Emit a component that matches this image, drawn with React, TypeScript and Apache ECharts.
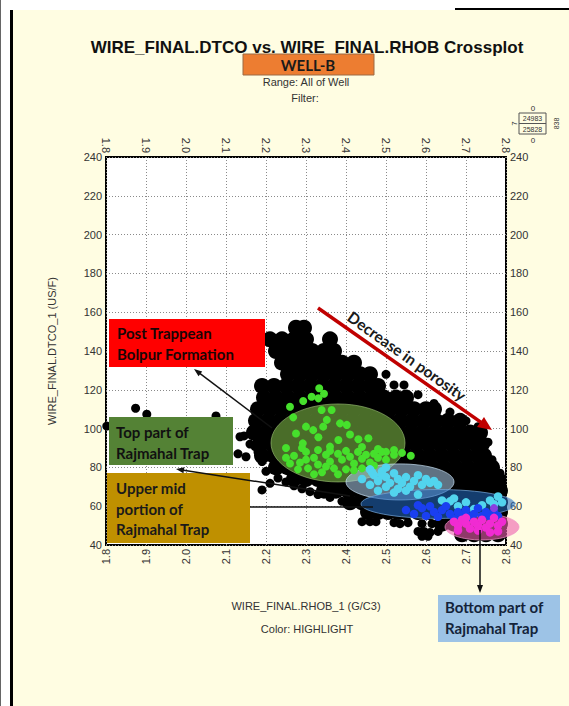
import React, { useEffect, useRef } from 'react';
import * as echarts from 'echarts';

// ---- axes ----
const rhoMin = 1.8;
const rhoMax = 2.8;
const rhoStep = 0.1;
const dtMin = 40;
const dtMax = 240;
const dtStep = 20;

// ---- black (all-data) cloud, read row by row: [DTCO, RHOB values] ----
const cloudRows: [number, number[]][] = [
  [152, [2.275, 2.295]],
  [146, [2.21, 2.24, 2.27, 2.30, 2.36]],
  [140, [2.225, 2.255, 2.285, 2.315, 2.345, 2.37]],
  [134, [2.24, 2.27, 2.30, 2.33, 2.36, 2.39, 2.42]],
  [128, [2.255, 2.285, 2.315, 2.345, 2.375, 2.405, 2.435, 2.46]],
  [122, [2.19, 2.22, 2.25, 2.28, 2.31, 2.34, 2.37, 2.40, 2.43, 2.46, 2.48]],
  [116, [2.195, 2.225, 2.255, 2.285, 2.315, 2.345, 2.375, 2.405, 2.435, 2.465, 2.495, 2.525, 2.55]],
  [110, [2.18, 2.21, 2.24, 2.27, 2.30, 2.33, 2.36, 2.39, 2.42, 2.45, 2.48, 2.51, 2.54, 2.57, 2.60, 2.62]],
  [104, [2.175, 2.205, 2.235, 2.265, 2.295, 2.325, 2.355, 2.385, 2.415, 2.445, 2.475, 2.505, 2.535, 2.565, 2.595, 2.625, 2.655, 2.685]],
  [98, [2.17, 2.20, 2.23, 2.26, 2.29, 2.32, 2.35, 2.38, 2.41, 2.44, 2.47, 2.50, 2.53, 2.56, 2.59, 2.62, 2.65, 2.68, 2.71, 2.735]],
  [92, [2.185, 2.215, 2.245, 2.275, 2.305, 2.335, 2.365, 2.395, 2.425, 2.455, 2.485, 2.515, 2.545, 2.575, 2.605, 2.635, 2.665, 2.695, 2.725, 2.74]],
  [86, [2.19, 2.22, 2.25, 2.28, 2.31, 2.34, 2.37, 2.40, 2.43, 2.46, 2.49, 2.52, 2.55, 2.58, 2.61, 2.64, 2.67, 2.70, 2.73, 2.745]],
  [80, [2.225, 2.255, 2.285, 2.315, 2.345, 2.375, 2.405, 2.435, 2.465, 2.495, 2.525, 2.555, 2.585, 2.615, 2.645, 2.675, 2.705, 2.735, 2.765]],
  [74, [2.27, 2.30, 2.33, 2.36, 2.39, 2.42, 2.45, 2.48, 2.51, 2.54, 2.57, 2.60, 2.63, 2.66, 2.69, 2.72, 2.75, 2.78]],
  [68, [2.345, 2.375, 2.405, 2.435, 2.465, 2.495, 2.525, 2.555, 2.585, 2.615, 2.645, 2.675, 2.705, 2.735, 2.765, 2.785]],
  [62, [2.41, 2.44, 2.47, 2.50, 2.53, 2.56, 2.59, 2.62, 2.65, 2.68, 2.71, 2.74, 2.77, 2.785]],
  [57, [2.455, 2.48, 2.505, 2.53, 2.55, 2.58, 2.61, 2.64, 2.67, 2.70, 2.73, 2.76, 2.785]],
  [51, [2.64, 2.67, 2.70, 2.73, 2.76, 2.785]],
  [45.5, [2.69, 2.72, 2.75, 2.78]],
];

// ---- scattered black points around the cloud edge: [RHOB, DTCO] ----
const cloudOutliers: [number, number][] = [
  [1.874, 110.5], [1.902, 107.4], [2.075, 106.5], [1.802, 101.3], [2.135, 95.8], [2.145, 96.2],
  [2.13, 87], [2.15, 85.5], [2.173, 90.7], [2.18, 88], [2.19, 83], [2.19, 68.4], [2.21, 71.8],
  [2.177, 98.4], [2.19, 95.8], [2.205, 101.9], [2.16, 92], [2.2, 78], [2.23, 74.5], [2.25, 72.5],
  [2.27, 70.5], [2.29, 69], [2.31, 67.5], [2.33, 66], [2.36, 64.5], [2.39, 62.5],
  [2.50, 128], [2.52, 122.5], [2.545, 122.5], [2.58, 117.5], [2.62, 113], [2.66, 108.5], [2.70, 104],
  [2.73, 101], [2.755, 93], [2.765, 84], [2.785, 77], [2.79, 72],
  [2.44, 52], [2.46, 52], [2.475, 52], [2.52, 51.5], [2.535, 51], [2.555, 51.5], [2.59, 51], [2.615, 51],
  [2.58, 47], [2.595, 47], [2.61, 46.5], [2.63, 47], [2.59, 44.5], [2.605, 44.5],
  [2.45, 60], [2.47, 59.5], [2.44, 62],
];

// ---- highlighted zones ----
const greenPts: [number, number][] = [
  [2.333, 120.8], [2.331, 115.6], [2.314, 116.4], [2.293, 114.2], [2.26, 111.3], [2.345, 118],
  [2.268, 105.8], [2.339, 109.6], [2.364, 109.6], [2.343, 101], [2.385, 102.7], [2.402, 101.9],
  [2.331, 95.5], [2.292, 92.4], [2.36, 90.7], [2.381, 94.1], [2.431, 94.5], [2.456, 95],
  [2.352, 104.5], [2.318, 99.2], [2.41, 97], [2.30, 101], [2.275, 97.5], [2.25, 90],
  [2.44, 90.5], [2.48, 89.5], [2.5, 88], [2.52, 89],
  [2.27, 86], [2.285, 82.5], [2.30, 88], [2.305, 79.5], [2.32, 85], [2.33, 81.5], [2.34, 77.5],
  [2.35, 86.5], [2.36, 83], [2.37, 79.5], [2.38, 87], [2.39, 84], [2.40, 79], [2.41, 85.5],
  [2.42, 82], [2.43, 88], [2.44, 84.5], [2.45, 86.5], [2.46, 82.5], [2.47, 87], [2.48, 85],
  [2.49, 88], [2.50, 84], [2.52, 86.5], [2.54, 87.5], [2.562, 86], [2.28, 79], [2.32, 76.5],
  [2.35, 80.5], [2.38, 76.5], [2.42, 78.5], [2.44, 79.5], [2.47, 81], [2.30, 84], [2.26, 82],
  [2.36, 88.5], [2.40, 88.5], [2.33, 89], [2.25, 85], [2.29, 90],
];
const cyanPts: [number, number][] = [
  [2.44, 74], [2.46, 71], [2.47, 76], [2.48, 73], [2.49, 78], [2.50, 70], [2.50, 75], [2.51, 72],
  [2.52, 77], [2.53, 74], [2.53, 69], [2.54, 72], [2.55, 75], [2.56, 70], [2.57, 73], [2.58, 76],
  [2.59, 71], [2.60, 74], [2.61, 72], [2.62, 73], [2.63, 71], [2.48, 68], [2.52, 67], [2.46, 79],
  [2.50, 80], [2.55, 68], [2.58, 66], [2.465, 77.5], [2.49, 76],
  [2.64, 63], [2.66, 62.5], [2.67, 64], [2.68, 60], [2.70, 62], [2.72, 58.5], [2.74, 60.5],
  [2.76, 63], [2.78, 65], [2.79, 62], [2.77, 61],
];
const bluePts: [number, number][] = [
  [2.55, 58], [2.57, 56], [2.59, 59], [2.60, 55], [2.62, 57], [2.63, 54.5], [2.64, 58], [2.66, 56],
  [2.67, 53.5], [2.68, 57], [2.69, 55], [2.70, 58], [2.71, 54.5], [2.72, 56], [2.73, 59], [2.74, 55],
  [2.75, 57], [2.76, 54.5], [2.77, 57], [2.78, 55], [2.58, 60.5], [2.61, 60], [2.65, 60],
];
const magentaPts: [number, number][] = [
  [2.67, 52], [2.68, 50], [2.69, 53], [2.70, 51], [2.71, 48.5], [2.72, 52], [2.73, 50], [2.74, 53],
  [2.75, 49], [2.76, 51], [2.77, 54], [2.78, 50], [2.79, 52], [2.70, 54], [2.73, 47.5], [2.76, 46.5],
  [2.78, 47], [2.68, 47.5],
];
const purplePts: [number, number][] = [[2.77, 59]];

const cloudPts: [number, number][] = [];
cloudRows.forEach(([dt, rhos]) => rhos.forEach((r) => cloudPts.push([r, dt])));

const AX_FONT = 'Liberation Sans, Arial, sans-serif';
const NOTE_FONT = 'Lato, "Open Sans", sans-serif';

function arrow(x1: number, y1: number, x2: number, y2: number, color: string, w: number, hl: number, hw: number, z: number, head = true) {
  const dx = x2 - x1, dy = y2 - y1;
  const L = Math.sqrt(dx * dx + dy * dy);
  const ux = dx / L, uy = dy / L;
  const nx = -uy, ny = ux;
  const bx = x2 - ux * hl, by = y2 - uy * hl;
  const els: any[] = [
    { type: 'line', z, shape: { x1, y1, x2: head ? bx + ux * 2 : x2, y2: head ? by + uy * 2 : y2 }, style: { stroke: color, lineWidth: w } },
  ];
  if (head) {
    els.push({
      type: 'polygon', z,
      shape: { points: [[x2, y2], [bx + nx * hw / 2, by + ny * hw / 2], [bx - nx * hw / 2, by - ny * hw / 2]] },
      style: { fill: color },
    });
  }
  return els;
}

function noteBox(x: number, y: number, w: number, h: number, fill: string, lines: string, tx: number, ty: number, color: string) {
  return [
    { type: 'rect', z: 20, shape: { x, y, width: w, height: h }, style: { fill } },
    {
      type: 'text', z: 21, x: tx, y: ty,
      style: { text: lines, fill: color, fontFamily: NOTE_FONT, fontWeight: 'bold', fontSize: 15, lineHeight: 20.5, align: 'left', verticalAlign: 'top' },
    },
  ];
}

function dots(name: string, data: [number, number][], size: number, color: string, z: number) {
  return { type: 'scatter', name, data, symbolSize: size, itemStyle: { color, opacity: 1, borderWidth: 0 }, z, silent: true };
}

export default function App() {
  const ref = useRef<HTMLDivElement>(null);
  useEffect(() => {
    if (!ref.current) return;
    const chart = echarts.init(ref.current, null, { renderer: 'svg' });
    const axLabel = { fontFamily: AX_FONT, fontSize: 11, color: '#333' };
    const gridLine = { show: true, lineStyle: { type: [1, 2] as any, color: '#8a8a8a', width: 1 } };
    chart.setOption({
      animation: false,
      backgroundColor: 'transparent',
      textStyle: { fontFamily: AX_FONT },
      grid: { left: 106, top: 157, width: 400, height: 388, show: true, backgroundColor: '#fff', borderColor: '#000', borderWidth: 2 },
      xAxis: [
        {
          type: 'value', position: 'bottom', min: rhoMin, max: rhoMax, interval: rhoStep,
          axisLine: { show: false }, axisTick: { show: false }, splitLine: gridLine,
          axisLabel: { ...axLabel, rotate: 90, margin: 4, formatter: (v: number) => v.toFixed(1) },
          name: 'WIRE_FINAL.RHOB_1 (G/C3)', nameLocation: 'middle', nameGap: 55,
          nameTextStyle: { fontFamily: AX_FONT, fontSize: 11, color: '#333' },
        },
        {
          type: 'value', position: 'top', min: rhoMin, max: rhoMax, interval: rhoStep,
          axisLine: { show: false }, axisTick: { show: false }, splitLine: { show: false },
          axisLabel: { ...axLabel, rotate: 90, margin: 4, formatter: (v: number) => v.toFixed(1) },
        },
      ],
      yAxis: [
        {
          type: 'value', position: 'left', min: dtMin, max: dtMax, interval: dtStep,
          axisLine: { show: false }, axisTick: { show: false }, splitLine: gridLine,
          axisLabel: { ...axLabel, margin: 4 },
          name: 'WIRE_FINAL.DTCO_1 (US/F)', nameLocation: 'middle', nameGap: 49,
          nameTextStyle: { fontFamily: AX_FONT, fontSize: 11, color: '#333' },
        },
        {
          type: 'value', position: 'right', min: dtMin, max: dtMax, interval: dtStep,
          axisLine: { show: false }, axisTick: { show: false }, splitLine: { show: false },
          axisLabel: { ...axLabel, margin: 4 },
        },
      ],
      series: [
        dots('cloud', cloudPts, 16, '#000', 2),
        dots('outliers', cloudOutliers, 9, '#000', 2),
        dots('Top part', greenPts, 8, '#46e02c', 5),
        dots('Upper mid', cyanPts, 8.5, '#52d4ee', 5),
        dots('Lower mid', bluePts, 8.5, '#1a3ff0', 5),
        dots('Bottom', magentaPts, 8.5, '#f02bd2', 5),
        dots('mix', purplePts, 8, '#8a3de0', 5),
      ],
    });

    const P = (r: number, d: number) => chart.convertToPixel({ xAxisIndex: 0, yAxisIndex: 0 }, [r, d]) as number[];
    const ell = (r0: number, r1: number, d0: number, d1: number, fill: string, stroke: string) => {
      const a = P(r0, d0), b = P(r1, d1);
      return {
        type: 'ellipse', z: 4,
        shape: { cx: (a[0] + b[0]) / 2, cy: (a[1] + b[1]) / 2, rx: Math.abs(b[0] - a[0]) / 2, ry: Math.abs(b[1] - a[1]) / 2 },
        style: { fill, stroke, lineWidth: 1 },
      };
    };

    const graphic: any[] = [
      ell(2.2125, 2.5475, 72.5, 112.7, 'rgba(112,165,62,0.66)', 'rgba(160,200,120,0.6)'),
      ell(2.40, 2.67, 63.2, 81.8, 'rgba(175,208,236,0.55)', 'rgba(200,225,245,0.7)'),
      ell(2.4375, 2.8225, 53.7, 68.6, 'rgba(35,105,190,0.58)', 'rgba(120,170,220,0.7)'),
      ell(2.6475, 2.8325, 42.6, 56, 'rgba(238,95,175,0.6)', 'rgba(240,150,200,0.7)'),
      // title block
      { type: 'text', x: 307, y: 47, z: 30, style: { text: 'WIRE_FINAL.DTCO vs. WIRE_FINAL.RHOB Crossplot', fill: '#111', fontFamily: AX_FONT, fontWeight: 'bold', fontSize: 17, align: 'center', verticalAlign: 'middle' } },
      { type: 'rect', z: 31, shape: { x: 243, y: 54, width: 131, height: 21 }, style: { fill: '#ed7d31', stroke: '#9b6a45', lineWidth: 1 } },
      { type: 'text', x: 308, y: 65, z: 32, style: { text: 'WELL-B', fill: '#1a1a1a', fontFamily: NOTE_FONT, fontWeight: 'bold', fontSize: 15, align: 'center', verticalAlign: 'middle' } },
      { type: 'text', x: 306, y: 82, z: 30, style: { text: 'Range: All of Well', fill: '#333', fontFamily: AX_FONT, fontSize: 11, align: 'center', verticalAlign: 'middle' } },
      { type: 'text', x: 305, y: 98, z: 30, style: { text: 'Filter:', fill: '#333', fontFamily: AX_FONT, fontSize: 11, align: 'center', verticalAlign: 'middle' } },
      { type: 'text', x: 307, y: 629, z: 30, style: { text: 'Color: HIGHLIGHT', fill: '#333', fontFamily: AX_FONT, fontSize: 11, align: 'center', verticalAlign: 'middle' } },
      // small count box
      { type: 'rect', z: 30, shape: { x: 519, y: 113, width: 27, height: 21 }, style: { fill: 'none', stroke: '#555', lineWidth: 1 } },
      { type: 'line', z: 30, shape: { x1: 519, y1: 123.5, x2: 546, y2: 123.5 }, style: { stroke: '#555', lineWidth: 1 } },
      { type: 'text', x: 532.5, y: 118.5, z: 30, style: { text: '24983', fill: '#333', fontFamily: AX_FONT, fontSize: 7, align: 'center', verticalAlign: 'middle' } },
      { type: 'text', x: 532.5, y: 129, z: 30, style: { text: '25828', fill: '#333', fontFamily: AX_FONT, fontSize: 7, align: 'center', verticalAlign: 'middle' } },
      { type: 'text', x: 533, y: 108, z: 30, style: { text: '0', fill: '#333', fontFamily: AX_FONT, fontSize: 8, align: 'center', verticalAlign: 'middle' } },
      { type: 'text', x: 533, y: 140, z: 30, style: { text: '0', fill: '#333', fontFamily: AX_FONT, fontSize: 8, align: 'center', verticalAlign: 'middle' } },
      { type: 'text', x: 514, y: 123.5, z: 30, rotation: Math.PI / 2, style: { text: '7', fill: '#333', fontFamily: AX_FONT, fontSize: 8, align: 'center', verticalAlign: 'middle' } },
      { type: 'text', x: 556, y: 123.5, z: 30, rotation: Math.PI / 2, style: { text: '838', fill: '#333', fontFamily: AX_FONT, fontSize: 7, align: 'center', verticalAlign: 'middle' } },
      // porosity arrow
      ...arrow(318, 308, 492, 430, '#c00000', 3.5, 14, 12, 25),
      { type: 'text', x: 407, y: 356, z: 26, rotation: -35.5 * Math.PI / 180, style: { text: 'Decrease in porosity', fill: '#1a1a1a', fontFamily: NOTE_FONT, fontWeight: 'bold', fontSize: 15.5, align: 'center', verticalAlign: 'middle' } },
      // zone labels
      ...noteBox(109, 319, 156, 48, '#ff0000', 'Post Trappean\nBolpur Formation', 117, 323, '#1a0505'),
      ...noteBox(109, 417, 124, 48, '#548235', 'Top part of\nRajmahal Trap', 116, 422, '#111'),
      ...noteBox(107, 473, 143, 70, '#bf9000', 'Upper mid\nportion of\nRajmahal Trap', 116, 478, '#1a1a1a'),
      ...noteBox(438, 595, 122, 47, '#9dc3e6', 'Bottom part of\nRajmahal Trap', 445, 597, '#14233a'),
      // leader arrows
      ...arrow(272, 428, 194, 369, '#111', 1.5, 8, 6, 22),
      ...arrow(350, 496, 176, 469, '#111', 1.5, 8, 6, 22),
      ...arrow(373, 507, 250, 507, '#111', 1.5, 8, 6, 22, false),
      ...arrow(480, 530, 480, 593, '#111', 1.5, 8, 6, 22),
    ];
    chart.setOption({ graphic });
    return () => chart.dispose();
  }, []);

  return (
    <div style={{ position: 'fixed', left: 0, top: 0, width: 569, height: 706, background: '#fff', overflow: 'hidden' }}>
      <div style={{ position: 'absolute', left: 0, top: 0, width: 1, height: 706, background: '#666' }} />
      <div style={{ position: 'absolute', left: 12, top: 10, width: 557, height: 696, background: '#fffde2' }} />
      <div style={{ position: 'absolute', left: 10, top: 10, width: 2.5, height: 696, background: '#000' }} />
      <div style={{ position: 'absolute', left: 455, top: 8, width: 114, height: 2, background: '#000' }} />
      <div ref={ref} style={{ position: 'absolute', left: 0, top: 0, width: 569, height: 706 }} />
    </div>
  );
}
